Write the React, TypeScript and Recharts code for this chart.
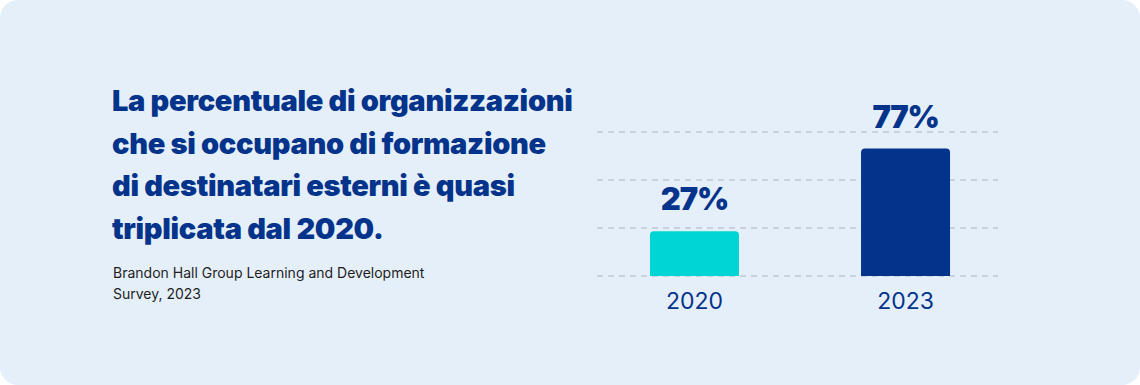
import React from "react";
import { BarChart, Bar, XAxis, YAxis, CartesianGrid, LabelList, Cell } from "recharts";

const years = ["2020", "2023"];
const values = [27, 77];
const barColors = ["#00D5D5", "#03338A"];
const gridTicks = [0, 29, 58, 87];

const titleLines = [
  "La percentuale di organizzazioni",
  "che si occupano di formazione",
  "di destinatari esterni è quasi",
  "triplicata dal 2020.",
];
const sourceLines = ["Brandon Hall Group Learning and Development", "Survey, 2023"];

const data = years.map((y, i) => ({ idx: i, year: y, value: values[i] }));

const NAVY = "#03338A";

export default function App() {
  return (
    <div style={{ position: "absolute", left: 0, top: 0, width: 1140, height: 385, background: "#ffffff" }}>
      <div
        style={{
          position: "absolute",
          left: 0,
          top: 0,
          width: 1140,
          height: 385,
          background: "#E5EFF9",
          borderRadius: 18,
        }}
      />
      <div
        style={{
          position: "absolute",
          left: 112,
          top: 80,
          fontFamily: "Inter, sans-serif",
          fontWeight: 900,
          fontSize: 29,
          lineHeight: "42.5px",
          letterSpacing: -0.3,
          color: NAVY,
          whiteSpace: "nowrap",
        }}
      >
        {titleLines.map((l, i) => (
          <div key={i}>{l}</div>
        ))}
      </div>
      <div
        style={{
          position: "absolute",
          left: 113,
          top: 262,
          fontFamily: "Inter, sans-serif",
          fontWeight: 400,
          fontSize: 14,
          lineHeight: "21px",
          color: "#1E1E1E",
          whiteSpace: "nowrap",
        }}
      >
        {sourceLines.map((l, i) => (
          <div key={i}>{l}</div>
        ))}
      </div>
      <div style={{ position: "absolute", left: 0, top: 0 }}>
        <BarChart
          width={1140}
          height={385}
          data={data}
          margin={{ top: 132, right: 142, bottom: 79, left: 597 }}
        >
          <CartesianGrid
            vertical={false}
            stroke="#C8D1DC"
            strokeWidth={2}
            strokeDasharray="6 5"
          />
          <XAxis
            dataKey="idx"
            type="number"
            domain={[-0.462, 1.438]}
            ticks={[0, 1]}
            tickFormatter={(v: number) => years[v] ?? ""}
            axisLine={false}
            tickLine={false}
            tickMargin={11}
            height={30}
            tick={{ fill: NAVY, fontSize: 23, fontFamily: "Inter, sans-serif", fontWeight: 400 }}
            allowDataOverflow
          />
          <YAxis hide domain={[0, 87]} ticks={gridTicks} width={0} />
          <Bar dataKey="value" barSize={89} radius={[4, 4, 0, 0]} isAnimationActive={false}>
            {data.map((d, i) => (
              <Cell key={d.year} fill={barColors[i]} />
            ))}
            <LabelList
              dataKey="value"
              position="top"
              offset={21}
              formatter={(v: number) => `${v}%`}
              style={{ fill: NAVY, fontSize: 31, fontWeight: 900, fontFamily: "Inter, sans-serif", letterSpacing: -1.2 }}
            />
          </Bar>
        </BarChart>
      </div>
    </div>
  );
}
